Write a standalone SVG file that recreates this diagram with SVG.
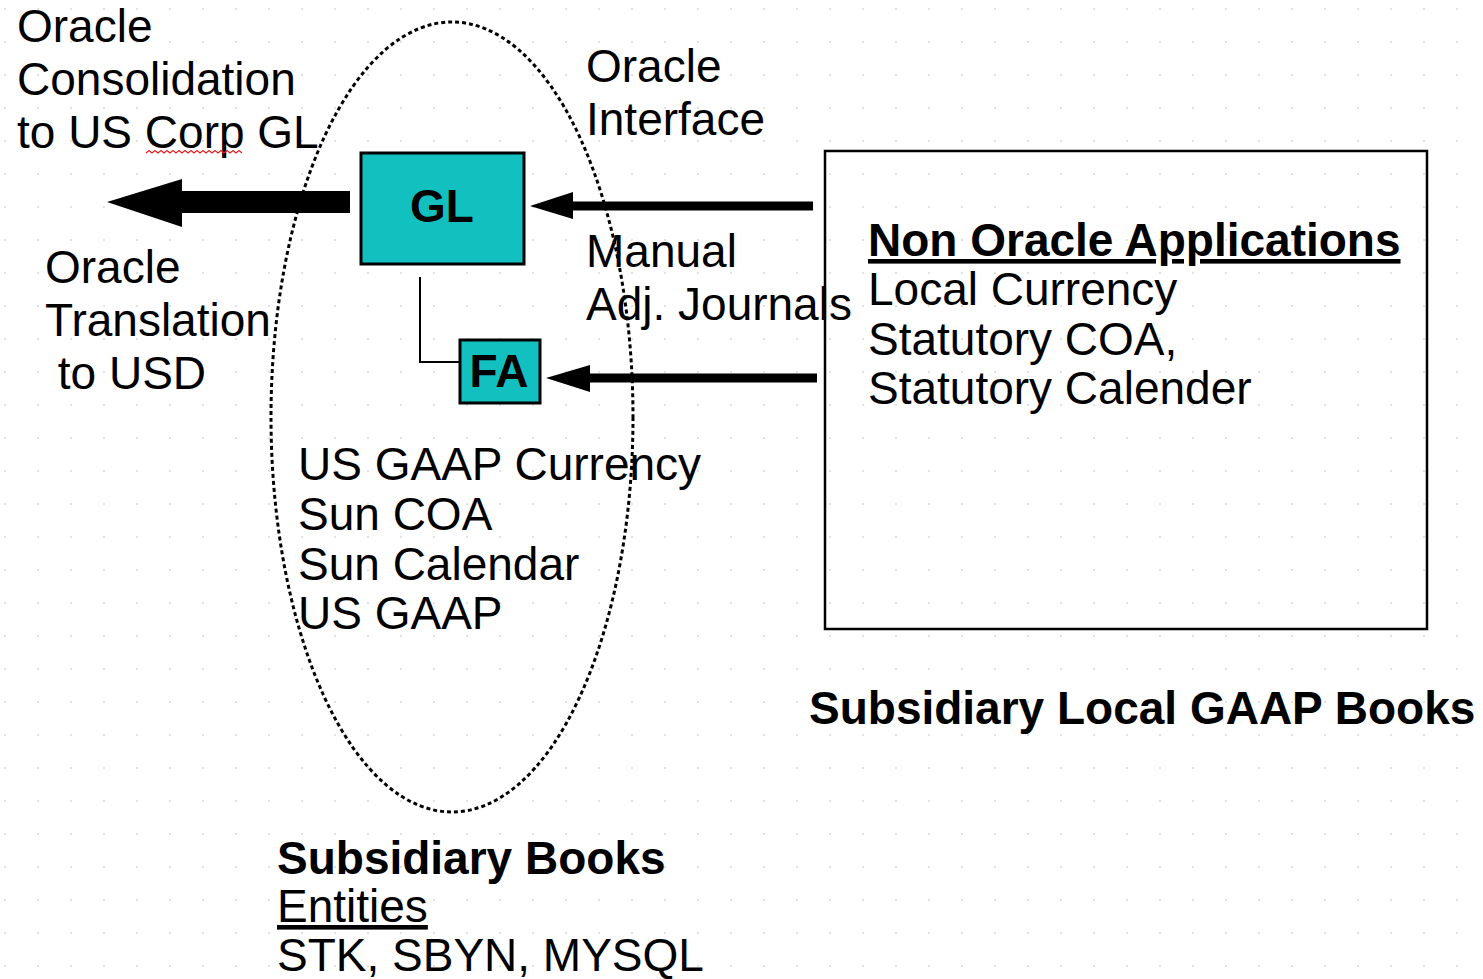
<svg xmlns="http://www.w3.org/2000/svg" width="1483" height="979" viewBox="0 0 1483 979">
<defs>
<pattern id="grid" x="4" y="8" width="33" height="33" patternUnits="userSpaceOnUse">
<circle cx="1" cy="1" r="1" fill="#d9d9d9"/>
</pattern>
<style>
text{font-family:"Liberation Sans",Arial,sans-serif;font-size:46px;fill:#000}
.b{font-weight:bold}
.node{fill:#12c0c0;stroke:#000;stroke-width:3}
.arrowline{stroke:#000;stroke-width:9;fill:none}
.head{fill:#000}
</style>
</defs>
<rect width="1483" height="979" fill="#fff"/>
<rect width="1483" height="979" fill="url(#grid)"/>

<g id="subsidiary-books-ellipse">
<ellipse cx="452" cy="417" rx="181" ry="395" fill="none" stroke="#000" stroke-width="3" stroke-dasharray="4 3"/>
</g>

<g id="connectors">
<rect x="182" y="191" width="168" height="22" fill="#000"/>
<polygon class="head" points="107,202 182,179 182,227"/>
<line class="arrowline" x1="813" y1="206" x2="570" y2="206"/>
<polygon class="head" points="530,206 573,192 573,219"/>
<line class="arrowline" x1="817" y1="378" x2="586" y2="378"/>
<polygon class="head" points="546,378 590,365 590,392"/>
<polyline points="420,277 420,362 459,362" fill="none" stroke="#000" stroke-width="2"/>
</g>

<g id="node-gl">
<rect class="node" x="361" y="153" width="163" height="111"/>
<text class="b" x="442" y="222" text-anchor="middle" font-size="42">GL</text>
</g>

<g id="node-fa">
<rect class="node" x="460" y="340" width="80" height="63"/>
<text class="b" x="499" y="387" text-anchor="middle" font-size="42">FA</text>
</g>

<g id="node-non-oracle">
<rect x="825" y="151" width="602" height="478" fill="none" stroke="#000" stroke-width="2.5"/>
<text class="b" x="868" y="256" text-decoration="underline">Non Oracle Applications</text>
<text x="868" y="305">Local Currency</text>
<text x="868" y="355">Statutory COA,</text>
<text x="868" y="404">Statutory Calender</text>
</g>

<g id="labels">
<text x="17" y="42">Oracle</text>
<text x="17" y="95">Consolidation</text>
<text x="17" y="148">to US Corp GL</text>
<path d="M146,153 l3,-2.5 l3,2.5 l3,-2.5 l3,2.5 l3,-2.5 l3,2.5 l3,-2.5 l3,2.5 l3,-2.5 l3,2.5 l3,-2.5 l3,2.5 l3,-2.5 l3,2.5 l3,-2.5 l3,2.5 l3,-2.5 l3,2.5 l3,-2.5 l3,2.5 l3,-2.5 l3,2.5 l3,-2.5 l3,2.5 l3,-2.5 l3,2.5 l3,-2.5 l3,2.5 l3,-2.5 l3,2.5 l3,-2.5 l3,2.5" fill="none" stroke="#e02020" stroke-width="1.2"/>
<text x="45" y="283">Oracle</text>
<text x="45" y="336">Translation</text>
<text x="45" y="389" xml:space="preserve"> to USD</text>
<text x="586" y="82">Oracle</text>
<text x="586" y="135">Interface</text>
<text x="586" y="267">Manual</text>
<text x="586" y="320">Adj. Journals</text>
<text x="298" y="480">US GAAP Currency</text>
<text x="298" y="530">Sun COA</text>
<text x="298" y="580">Sun Calendar</text>
<text x="298" y="629">US GAAP</text>
<text class="b" x="809" y="724">Subsidiary Local GAAP Books</text>
<text class="b" x="277" y="874">Subsidiary Books</text>
<text x="277" y="922" text-decoration="underline">Entities</text>
<text x="277" y="971">STK, SBYN, MYSQL</text>
</g>
</svg>
